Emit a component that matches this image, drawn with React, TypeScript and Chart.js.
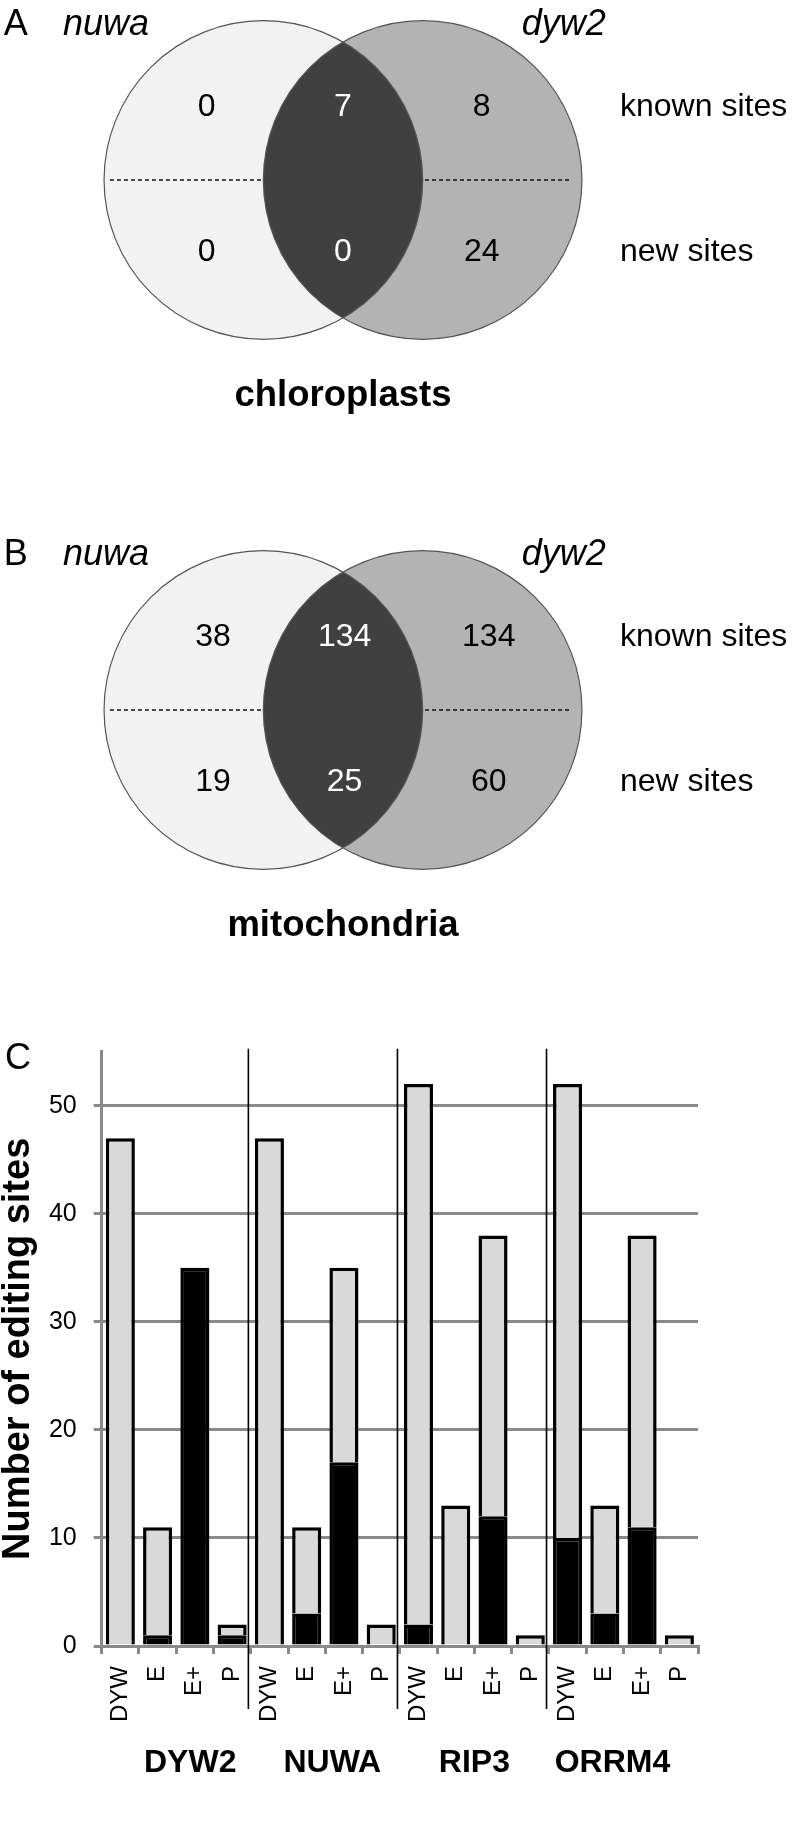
import React, { useEffect, useLayoutEffect, useRef } from 'react';
import { Chart, registerables } from 'chart.js';

Chart.register(...registerables);

const FONT = "'Liberation Sans', Arial, Helvetica, sans-serif";

// ---------- Venn data (panels A and B) ----------
const vennSetNames = ['nuwa', 'dyw2'];
const vennRowLabels = ['known sites', 'new sites'];
const chloroplastKnown = [0, 7, 8]; // nuwa only, both, dyw2 only
const chloroplastNew = [0, 0, 24];
const mitochondriaKnown = [38, 134, 134];
const mitochondriaNew = [19, 25, 60];

// ---------- Bar data (panel C) ----------
const groupNames = ['DYW2', 'NUWA', 'RIP3', 'ORRM4'];
const classLabels = ['DYW', 'E', 'E+', 'P'];
const totalSites = [47, 11, 35, 2, 47, 11, 35, 2, 52, 13, 38, 1, 52, 13, 38, 1];
const blackSites = [0, 1, 35, 1, 0, 3, 17, 0, 2, 0, 12, 0, 10, 3, 11, 0];
const yTickValues = [0, 10, 20, 30, 40, 50];
const yAxisMax = 55;

// ---------- Venn geometry (units: circle radius = 1) ----------
const VENN_PX = 159.3;
const VENN_OX = 343;
const VENN_OY = 180;
const CIRCLE_CX = [-0.5, 0.5];
const ROW_Y = [0.456, -0.456];
const DASH_SEGMENTS = [
  [-1.463, -0.5],
  [0.515, 1.436],
];
const HEADER_Y = 0.91;
const LETTER_X = -2.13;
const SET_LABEL_X = [-1.758, 1.122];
const ROW_LABEL_X = 1.739;
const TITLE_Y = -1.356;

const vennPlugin = {
  id: 'venn',
  beforeDatasetsDraw(chart: any, _args: any, opts: any) {
    const { ctx } = chart;
    const xs = chart.scales.x;
    const ys = chart.scales.y;
    const px = (v: number) => xs.getPixelForValue(v);
    const py = (v: number) => ys.getPixelForValue(v);
    const r = px(1) - px(0);
    const cy = py(0);
    const [lx, rx] = CIRCLE_CX.map(px);
    const circle = (cx: number) => {
      ctx.beginPath();
      ctx.arc(cx, cy, r, 0, Math.PI * 2);
    };
    ctx.save();
    circle(lx);
    ctx.fillStyle = '#f2f2f2';
    ctx.fill();
    circle(rx);
    ctx.fillStyle = '#b3b3b3';
    ctx.fill();
    ctx.save();
    circle(lx);
    ctx.clip();
    circle(rx);
    ctx.fillStyle = '#404040';
    ctx.fill();
    ctx.restore();
    ctx.strokeStyle = '#555';
    ctx.lineWidth = 1.2;
    circle(lx);
    ctx.stroke();
    circle(rx);
    ctx.stroke();

    ctx.setLineDash([4, 3]);
    ctx.strokeStyle = '#111';
    ctx.lineWidth = 1.3;
    DASH_SEGMENTS.forEach(([a, b]) => {
      ctx.beginPath();
      ctx.moveTo(px(a), cy);
      ctx.lineTo(px(b), cy);
      ctx.stroke();
    });
    ctx.setLineDash([]);

    ctx.fillStyle = '#000';
    ctx.textBaseline = 'alphabetic';
    ctx.textAlign = 'left';
    ctx.font = `36px ${FONT}`;
    ctx.fillText(opts.letter, px(LETTER_X), py(HEADER_Y));
    ctx.font = `italic 36px ${FONT}`;
    vennSetNames.forEach((n, i) => ctx.fillText(n, px(SET_LABEL_X[i]), py(HEADER_Y)));

    ctx.textBaseline = 'middle';
    ctx.font = `32px ${FONT}`;
    vennRowLabels.forEach((t, i) => ctx.fillText(t, px(ROW_LABEL_X), py(ROW_Y[i])));

    ctx.textAlign = 'center';
    ctx.font = `bold 36.5px ${FONT}`;
    ctx.fillText(opts.title, px(0), py(TITLE_Y));
    ctx.restore();
  },
  afterDatasetsDraw(chart: any) {
    const { ctx } = chart;
    const meta = chart.getDatasetMeta(0);
    const data = chart.data.datasets[0].data;
    ctx.save();
    ctx.font = `32px ${FONT}`;
    ctx.textAlign = 'center';
    ctx.textBaseline = 'middle';
    meta.data.forEach((el: any, i: number) => {
      const d = data[i];
      ctx.fillStyle = d.c === 1 ? '#fff' : '#000';
      ctx.fillText(String(d.v), el.x, el.y);
    });
    ctx.restore();
  },
};

function VennChart(props: {
  top: number;
  height: number;
  letter: string;
  title: string;
  known: number[];
  fresh: number[];
  colX: number[];
}) {
  const ref = useRef<HTMLCanvasElement | null>(null);
  const { top, height, letter, title, known, fresh, colX } = props;
  useEffect(() => {
    const W = 796;
    const pts: any[] = [];
    [known, fresh].forEach((row, r) =>
      row.forEach((v, c) => pts.push({ x: colX[c], y: ROW_Y[r], v, c }))
    );
    const chart = new Chart(ref.current as HTMLCanvasElement, {
      type: 'scatter',
      data: { datasets: [{ data: pts, pointRadius: 0, pointHoverRadius: 0 }] },
      options: {
        responsive: false,
        animation: false,
        events: [],
        layout: { padding: 0 },
        scales: {
          x: { type: 'linear', display: false, min: -VENN_OX / VENN_PX, max: (W - VENN_OX) / VENN_PX },
          y: { type: 'linear', display: false, min: -(height - VENN_OY) / VENN_PX, max: VENN_OY / VENN_PX },
        },
        plugins: {
          legend: { display: false },
          tooltip: { enabled: false },
          venn: { letter, title },
        } as any,
      },
      plugins: [vennPlugin],
    } as any);
    return () => chart.destroy();
  }, []);
  return (
    <canvas
      ref={ref}
      width={796}
      height={height}
      style={{ position: 'absolute', left: 0, top, width: 796, height }}
    />
  );
}

const GROUP_LABEL_NUDGE = [14, 7, 0, -11];

const groupPlugin = {
  id: 'groups',
  afterDraw(chart: any) {
    const { ctx, chartArea } = chart;
    const x = chart.scales.x;
    const n = classLabels.length;
    ctx.save();
    ctx.strokeStyle = '#000';
    ctx.lineWidth = 1.6;
    for (let g = 1; g < groupNames.length; g++) {
      const i = g * n;
      const bx = (x.getPixelForValue(i - 1) + x.getPixelForValue(i)) / 2 - 2.4;
      ctx.beginPath();
      ctx.moveTo(bx, chartArea.top - 3);
      ctx.lineTo(bx, chartArea.bottom + 63);
      ctx.stroke();
    }
    ctx.fillStyle = '#000';
    ctx.font = `bold 32px ${FONT}`;
    ctx.textAlign = 'center';
    ctx.textBaseline = 'alphabetic';
    groupNames.forEach((g, k) => {
      const cx = (x.getPixelForValue(k * n) + x.getPixelForValue(k * n + n - 1)) / 2 + GROUP_LABEL_NUDGE[k];
      ctx.fillText(g, cx, chartArea.bottom + 125.7);
    });
    ctx.textAlign = 'left';
    ctx.font = `36px ${FONT}`;
    ctx.fillText('C', 5, 69);
    ctx.restore();
  },
};

function BarChart(props: { top: number; height: number }) {
  const ref = useRef<HTMLCanvasElement | null>(null);
  const { top, height } = props;
  useEffect(() => {
    const grayPart = totalSites.map((t, i) => t - blackSites[i]);
    const labels = groupNames.flatMap(() => classLabels);
    const common = { borderColor: '#000', borderWidth: 3.5, barPercentage: 0.78, categoryPercentage: 1 };
    const chart = new Chart(ref.current as HTMLCanvasElement, {
      type: 'bar',
      data: {
        labels,
        datasets: [
          { label: 'black', data: blackSites, backgroundColor: '#000', ...common },
          { label: 'grey', data: grayPart, backgroundColor: '#d9d9d9', ...common },
        ],
      },
      options: {
        responsive: false,
        animation: false,
        events: [],
        layout: { padding: { left: 0, top: 51.7, right: 98, bottom: 0 } },
        scales: {
          x: {
            stacked: true,
            offset: true,
            grid: {
              display: true,
              drawOnChartArea: false,
              drawTicks: true,
              tickLength: 8,
              color: '#8a8a8a',
              lineWidth: 3,
              offset: true,
            },
            border: { display: true, color: '#8a8a8a', width: 3 },
            ticks: {
              autoSkip: false,
              minRotation: 90,
              maxRotation: 90,
              padding: 12,
              color: '#000',
              font: { family: FONT, size: 24 },
            },
            afterFit: (s: any) => {
              s.height = height - 646;
            },
          },
          y: {
            stacked: true,
            min: 0,
            max: yAxisMax,
            afterBuildTicks: (s: any) => {
              s.ticks = yTickValues.map((v) => ({ value: v }));
            },
            grid: { color: '#8a8a8a', lineWidth: 3, tickLength: 8, drawTicks: true },
            border: { display: true, color: '#8a8a8a', width: 3 },
            ticks: { padding: 17, color: '#000', font: { family: FONT, size: 25 } },
            title: {
              display: true,
              text: 'Number of editing sites',
              color: '#000',
              font: { family: FONT, size: 38, weight: 'bold', lineHeight: 1 },
              padding: { top: 0, bottom: 0 },
            },
            afterFit: (s: any) => {
              s.width = 101.7;
            },
          },
        },
        plugins: { legend: { display: false }, tooltip: { enabled: false } },
      },
      plugins: [groupPlugin],
    } as any);
    return () => chart.destroy();
  }, []);
  return (
    <canvas
      ref={ref}
      width={796}
      height={height}
      style={{ position: 'absolute', left: 0, top, width: 796, height }}
    />
  );
}

export default function App() {
  useLayoutEffect(() => {
    document.body.style.margin = '0';
  }, []);
  return (
    <div style={{ position: 'relative', width: 796, height: 1825, background: '#fff', overflow: 'hidden' }}>
      <VennChart
        top={0}
        height={530}
        letter="A"
        title="chloroplasts"
        known={chloroplastKnown}
        fresh={chloroplastNew}
        colX={[-0.856, 0, 0.871]}
      />
      <VennChart
        top={530}
        height={470}
        letter="B"
        title="mitochondria"
        known={mitochondriaKnown}
        fresh={mitochondriaNew}
        colX={[-0.816, 0.01, 0.915]}
      />
      <BarChart top={1000} height={825} />
    </div>
  );
}
